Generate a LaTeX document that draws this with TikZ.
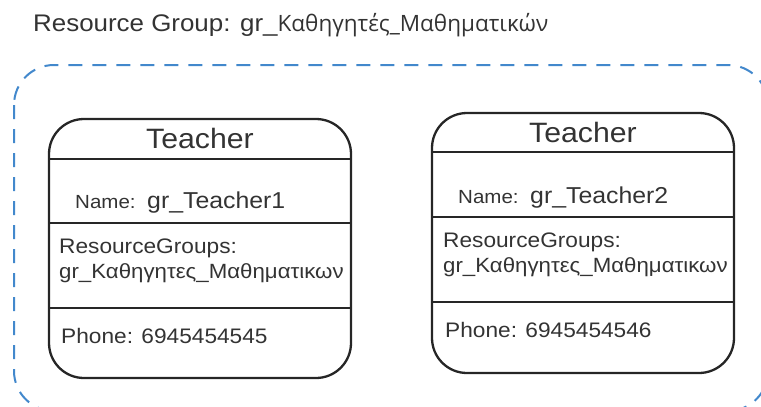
\documentclass[tikz,border=0pt]{standalone}
\usepackage{fontspec}
\setmainfont[FakeStretch=1.08]{Liberation Sans}
\newfontfamily\greekhead{Open Sans}
\begin{document}
\begin{tikzpicture}[x=1pt,y=-1pt,
  txt/.style={anchor=base west,inner sep=0pt,text=black!80},
  card/.style={draw=black!85,line width=2.3pt,rounded corners=35pt,inner sep=0pt},
  rule/.style={draw=black!85,line width=2.3pt},
  group/.style={draw={rgb,255:red,66;green,136;blue,204},line width=2pt,dash pattern=on 14pt off 10pt,rounded corners=40pt}]
\useasboundingbox (0,0) rectangle (761,407);
\begin{scope}
\clip (0,0) rectangle (761,407);
\draw[group] (14,65) rectangle (768,411);
\end{scope}

% heading
\node[txt] (title) at (33,31) {\fontsize{24}{28}\selectfont Resource Group: gr\_{\greekhead\fontsize{22.5}{28}\selectfont Καθηγητές\_Μαθηματικών}};

% first teacher card
\node[card,minimum width=302pt,minimum height=259pt] (c1) at (200,248.5) {};
\coordinate (c1a) at (49,159);  \coordinate (c1b) at (351,159);
\coordinate (c1c) at (49,223);  \coordinate (c1d) at (351,223);
\coordinate (c1e) at (49,308);  \coordinate (c1f) at (351,308);
\draw[rule] (c1a) -- (c1b);
\draw[rule] (c1c) -- (c1d);
\draw[rule] (c1e) -- (c1f);
\node[anchor=base,inner sep=0pt,text=black!80] (h1) at (200,148) {\fontsize{28}{32}\selectfont Teacher};
\node[txt] (n1) at (75,208) {\fontsize{19}{22}\selectfont Name:};
\node[txt] (v1) at (147,208) {\fontsize{23}{26}\selectfont gr\_Teacher1};
\node[txt] (r1) at (59,253) {\fontsize{21}{24}\selectfont ResourceGroups:};
\node[txt] (g1) at (59,278) {\fontsize{20.6}{24}\selectfont gr\_Καθηγητες\_Μαθηματικων};
\node[txt] (p1) at (61,343) {\fontsize{21}{24}\selectfont Phone: 6945454545};

% second teacher card
\node[card,minimum width=302pt,minimum height=260pt] (c2) at (583,243) {};
\coordinate (c2a) at (432,152);  \coordinate (c2b) at (734,152);
\coordinate (c2c) at (432,217);  \coordinate (c2d) at (734,217);
\coordinate (c2e) at (432,302);  \coordinate (c2f) at (734,302);
\draw[rule] (c2a) -- (c2b);
\draw[rule] (c2c) -- (c2d);
\draw[rule] (c2e) -- (c2f);
\node[anchor=base,inner sep=0pt,text=black!80] (h2) at (583,142) {\fontsize{28}{32}\selectfont Teacher};
\node[txt] (n2) at (458,203) {\fontsize{19}{22}\selectfont Name:};
\node[txt] (v2) at (530,203) {\fontsize{23}{26}\selectfont gr\_Teacher2};
\node[txt] (r2) at (443,247) {\fontsize{21}{24}\selectfont ResourceGroups:};
\node[txt] (g2) at (443,272) {\fontsize{20.6}{24}\selectfont gr\_Καθηγητες\_Μαθηματικων};
\node[txt] (p2) at (445,337) {\fontsize{21}{24}\selectfont Phone: 6945454546};
\end{tikzpicture}
\end{document}
